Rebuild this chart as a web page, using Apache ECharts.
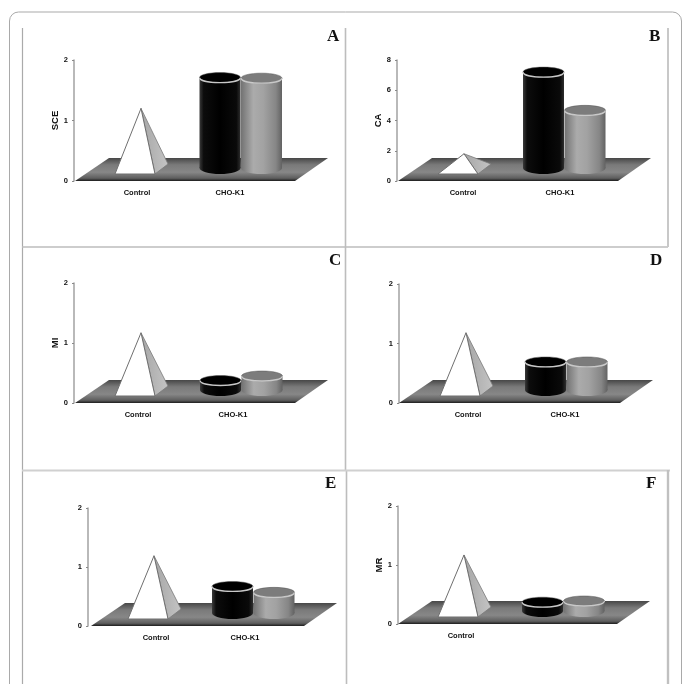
<!DOCTYPE html>
<html><head><meta charset="utf-8">
<style>html,body{margin:0;padding:0;background:#fff}#c{width:683px;height:684px}</style>
<script src="https://cdn.jsdelivr.net/npm/echarts@6/dist/echarts.min.js"></script>
</head><body><div id="c"></div>
<script>
// ---- data ----
const categories = ['Control', 'CHO-K1'];
const panelNames = ['A', 'B', 'C', 'D', 'E', 'F'];
const yTitles   = ['SCE', 'CA', 'MI', '', '', 'MR'];
const yMaxima   = [2, 8, 2, 2, 2, 2];
const yIntervals= [1, 2, 1, 1, 1, 1];
const pyramidValues = [1.2, 1.8, 1.17, 1.18, 1.19, 1.17];
const blackValues   = [1.71, 7.2, 0.375, 0.69, 0.67, 0.37];
const grayValues    = [1.70, 4.67, 0.45, 0.69, 0.57, 0.39];
const hiddenCategoryLabels = { F: ['CHO-K1'] };

// ---- layout (pixels) ----
const layout = [
 {axisX:74, top:60, y0:181, lab:[137,230], mark:[135,240.5], gap:11, plane:[1,220], letter:[334,37]},
 {axisX:397,top:60, y0:181, lab:[463,560], mark:[458,564], gap:13, plane:[1,220], letter:[656,37]},
 {axisX:74, top:283,y0:403, lab:[138,233], mark:[135,241], gap:12, plane:[1,220], letter:[336,261]},
 {axisX:399,top:284,y0:403, lab:[468,565], mark:[460,566], gap:13, plane:[0,221], letter:[657,261]},
 {axisX:88, top:508,y0:626, lab:[156,245], mark:[148,253], gap:13, plane:[3,213], letter:[332,484]},
 {axisX:398,top:506,y0:624, lab:[461,560], mark:[458,563], gap:13, plane:[0,219], letter:[653,484]}
];
const PLANE_H = 23, PLANE_SKEW = 33, BASE_UP = 7, RX = 20.5, RY = 5;

function hGrad(stops){
  return {type:'linear',x:0,y:0,x2:1,y2:0,colorStops:stops.map(s=>({offset:s[0],color:s[1]}))};
}
function vGrad(stops){
  return {type:'linear',x:0,y:0,x2:0,y2:1,colorStops:stops.map(s=>({offset:s[0],color:s[1]}))};
}
const blackBody = hGrad([[0,'#3a3a3a'],[0.1,'#0c0c0c'],[0.5,'#000'],[0.9,'#0a0a0a'],[1,'#2e2e2e']]);
const grayBody  = hGrad([[0,'#727272'],[0.3,'#ababab'],[0.55,'#a2a2a2'],[0.85,'#868686'],[1,'#626262']]);
const planeFill = vGrad([[0,'#474747'],[0.3,'#7a7a7a'],[0.62,'#878787'],[0.88,'#5e5e5e'],[1,'#1c1c1c']]);

function cylinder(cx, topY, y0, body, topFill, rim){
  const botY = y0 - BASE_UP - RY - 1;
  const k = RY * 4 / 3;
  return {type:'group',children:[
    {type:'ellipse',shape:{cx:cx,cy:botY,rx:RX,ry:RY+1},style:{fill:body}},
    {type:'rect',shape:{x:cx-RX,y:topY,width:RX*2,height:botY-topY},style:{fill:body}},
    {type:'ellipse',shape:{cx:cx,cy:topY,rx:RX,ry:RY},style:{fill:topFill,stroke:'#555',lineWidth:0.5}},
    {type:'bezierCurve',shape:{x1:cx-RX,y1:topY,cpx1:cx-RX+1,cpy1:topY+k,cpx2:cx+RX-1,cpy2:topY+k,x2:cx+RX,y2:topY},
      style:{fill:'none',stroke:rim,lineWidth:1.3}}
  ]};
}

function renderer(i){
  const L = layout[i];
  return function(params, api){
    const kind = api.value(2);
    const cat = api.value(0);
    const p = api.coord([cat, api.value(1)]);
    const dx = L.mark[cat] - L.lab[cat];
    if(kind === 0){
      const xa = L.axisX + L.plane[0], w = L.plane[1], y0 = p[1];
      return {type:'polygon',silent:true,shape:{points:[
        [xa,y0],[xa+w,y0],[xa+w+PLANE_SKEW,y0-PLANE_H],[xa+PLANE_SKEW+1,y0-PLANE_H]]},
        style:{fill:planeFill}};
    }
    const y0 = api.coord([cat,0])[1];
    const baseY = y0 - BASE_UP;
    if(kind === 1){
      const cx = p[0]+dx, ax = cx+6, ay = p[1];
      return {type:'group',children:[
        {type:'polygon',shape:{points:[[ax,ay],[cx+20,baseY],[cx+33,baseY-10]]},
         style:{fill:hGrad([[0,'#a6a6a6'],[1,'#c4c4c4']]),stroke:'#7a7a7a',lineWidth:0.8}},
        {type:'polygon',shape:{points:[[ax,ay],[cx-20,baseY],[cx+20,baseY]]},
         style:{fill:'#fff',stroke:'#6f6f6f',lineWidth:1}}
      ]};
    }
    const bx = p[0]+dx;
    if(kind === 2) return cylinder(bx-RX, p[1], y0, blackBody, '#000', '#c8c8c8');
    return cylinder(bx+RX+0.5, p[1], y0, grayBody, '#7c7c7c', '#c9c9c9');
  };
}

const grids=[], xAxes=[], yAxes=[], series=[], graphics=[];
layout.forEach(function(L,i){
  const width = (L.lab[1]-L.lab[0])*2, left = L.lab[0]-width/4;
  grids.push({left:left, width:width, top:L.top, height:L.y0-L.top});
  const hide = hiddenCategoryLabels[panelNames[i]] || [];
  xAxes.push({gridIndex:i,type:'category',data:categories,
    axisLine:{show:false},axisTick:{show:false},splitLine:{show:false},
    axisLabel:{margin:8,interval:0,color:'#111',fontFamily:'Liberation Sans',fontWeight:'bold',fontSize:7.5,
      formatter:function(v){return hide.indexOf(v)>=0?'':v;}}});
  yAxes.push({gridIndex:i,type:'value',min:0,max:yMaxima[i],interval:yIntervals[i],
    offset:left-L.axisX,name:yTitles[i],nameLocation:'middle',nameGap:L.gap,
    nameTextStyle:{color:'#111',fontFamily:'Liberation Sans',fontWeight:'bold',fontSize:9.5},
    axisLine:{show:true,lineStyle:{color:'#a8a8a8',width:1.6}},
    axisTick:{show:true,length:2,inside:false,lineStyle:{color:'#888',width:1}},
    splitLine:{show:false},
    axisLabel:{margin:6,color:'#111',fontFamily:'Liberation Sans',fontWeight:'bold',fontSize:7.5}});
  series.push({type:'custom',xAxisIndex:i,yAxisIndex:i,clip:false,silent:true,animation:false,
    renderItem:renderer(i),encode:{x:0,y:1},
    data:[[0,0,0],[0,pyramidValues[i],1],[1,blackValues[i],2],[1,grayValues[i],3]]});
  graphics.push({type:'text',left:L.letter[0]-7,top:L.letter[1]-9,z:20,
    style:{text:panelNames[i],fill:'#111',font:'bold 17px "Liberation Serif"'}});
});

const lineColor='#bdbdbd';
function frameLine(x1,y1,x2,y2,w,c){
  return {type:'line',z:-1,shape:{x1:x1,y1:y1,x2:x2,y2:y2},style:{stroke:c||lineColor,lineWidth:w||1.5}};
}
graphics.push(
  {type:'rect',z:-1,shape:{x:9.5,y:12,width:672,height:700,r:9},style:{fill:'none',stroke:'#a9a9a9',lineWidth:1}},
  frameLine(22.5,28,22.5,684,1.2,'#aaa'),
  frameLine(22,247,668,247,1.6),
  frameLine(345.5,28,345.5,470,1.6),
  frameLine(346.5,470,346.5,684,1.6),
  frameLine(22,470.5,670,470.5,2,'#d0d0d0'),
  frameLine(668,28,668,247,2,'#c8c8c8'),
  frameLine(668,470,668,684,2.4,'#c0c0c0')
);

echarts.init(document.getElementById('c'),null,{renderer:'canvas'}).setOption({
  animation:false,backgroundColor:'#fff',
  grid:grids,xAxis:xAxes,yAxis:yAxes,series:series,graphic:graphics
});
</script></body></html>
